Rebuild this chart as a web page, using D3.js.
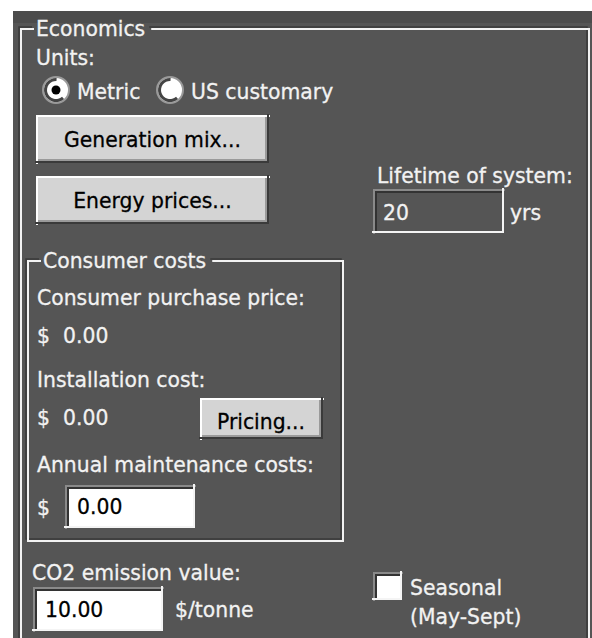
<!DOCTYPE html>
<html>
<head>
<meta charset="utf-8">
<script src="https://d3js.org/d3.v7.min.js"></script>
<style>
body { margin: 0; background: #fff; }
svg text { font-family: "DejaVu Sans", Verdana, sans-serif; font-size: 21px; stroke-width: 0.3px; }
</style>
</head>
<body>
<script>
/* form contents */
var groupTitles = ["Economics", "Consumer costs"];
var unitOptions = ["Metric", "US customary"];
var selectedUnit = "Metric";
var actionButtons = ["Generation mix...", "Energy prices..."];
var lifetimeLabel = "Lifetime of system:";
var lifetimeYears = [20];
var costLabels = ["Consumer purchase price:", "Installation cost:", "Annual maintenance costs:"];
var costValues = [0, 0, 0];
var co2Label = "CO2 emission value:";
var co2Values = [10];
var seasonalLabels = ["Seasonal", "(May-Sept)"];
var seasonalChecked = false;

var fmt = d3.format(".2f");
var W = 592, H = 638;
var BG = "#555555", FG = "#f2f2f2", FACE = "#d4d4d4";

var svg = d3.select("body").append("svg").attr("width", W).attr("height", H);

/* dialog background */
svg.append("rect").attr("x", 13).attr("y", 11).attr("width", W - 13).attr("height", H - 11).attr("fill", BG);
svg.append("rect").attr("x", 13).attr("y", 11).attr("width", W - 13).attr("height", 12).attr("fill", "#4c4c4c");

var frames = svg.append("g");

function label(g, txt, x, y, color, anchor) {
  var t = g.append("text").attr("x", x).attr("y", y)
    .attr("fill", color || FG).attr("stroke", color || FG)
    .attr("text-anchor", anchor || "start").text(txt);
  // the original face is a touch narrower than DejaVu
  var n = t.node().getComputedTextLength();
  t.attr("textLength", n * 0.97).attr("lengthAdjust", "spacingAndGlyphs");
  return t;
}

// etched frame with gap for its title
function groupBox(title, x0, y0, x1, y1) {
  var t = label(svg, title, x0 + 16, y0 + 8);
  var tw = +t.attr("textLength");
  var gapFrom = x0 + 13, gapTo = x0 + 16 + tw + 5;
  var d = "M" + gapFrom + "," + y0 + "H" + x0 + "V" + y1 + "H" + x1 + "V" + y0 + "H" + gapTo;
  frames.append("path").attr("d", d).attr("transform", "translate(-1,-1)")
    .attr("fill", "none").attr("stroke", "#3a3a3a").attr("stroke-width", 1.5);
  frames.append("path").attr("d", d).attr("transform", "translate(1,1)")
    .attr("fill", "none").attr("stroke", FG).attr("stroke-width", 2);
}

function raised(g, x, y, w, h, fill) {
  g.append("rect").attr("x", x).attr("y", y).attr("width", w).attr("height", h).attr("fill", fill);
  g.append("path").attr("d", "M" + x + "," + (y + h) + "V" + y + "H" + (x + w))
    .attr("fill", "none").attr("stroke", "#ffffff").attr("stroke-width", 2).attr("transform", "translate(1,1)");
  g.append("path").attr("d", "M" + x + "," + (y + h) + "H" + (x + w) + "V" + y)
    .attr("fill", "none").attr("stroke", "#3a3a3a").attr("stroke-width", 2).attr("transform", "translate(-1,-1)");
  g.append("path").attr("d", "M" + (x + 2) + "," + (y + h - 3) + "H" + (x + w - 3) + "V" + (y + 2))
    .attr("fill", "none").attr("stroke", "#9a9a9a").attr("stroke-width", 2);
}

function sunken(g, x, y, w, h, fill) {
  g.append("rect").attr("x", x).attr("y", y).attr("width", w).attr("height", h).attr("fill", fill);
  g.append("path").attr("d", "M" + x + "," + (y + h) + "V" + y + "H" + (x + w))
    .attr("fill", "none").attr("stroke", "#8a8a8a").attr("stroke-width", 2).attr("transform", "translate(1,1)");
  g.append("path").attr("d", "M" + (x + 2) + "," + (y + h - 2) + "V" + (y + 2) + "H" + (x + w - 2))
    .attr("fill", "none").attr("stroke", "#333").attr("stroke-width", 2).attr("transform", "translate(1,1)");
  g.append("path").attr("d", "M" + x + "," + (y + h) + "H" + (x + w) + "V" + y)
    .attr("fill", "none").attr("stroke", "#f4f4f4").attr("stroke-width", 2).attr("transform", "translate(-1,-1)");
}

/* Economics group */
groupBox(groupTitles[0], 20, 28, 588, H + 10);
label(svg, "Units:", 36, 65);

var radioX = d3.scaleOrdinal().domain(unitOptions).range([56, 170]);
var radio = svg.selectAll("g.radio").data(unitOptions).enter().append("g").attr("class", "radio")
  .attr("transform", function(d) { return "translate(" + radioX(d) + ",90)"; });
radio.append("circle").attr("r", 13).attr("fill", "#fff").attr("stroke", "#9a9a9a").attr("stroke-width", 2);
radio.append("path").attr("d", d3.arc()({innerRadius: 9, outerRadius: 12, startAngle: -Math.PI * 0.9, endAngle: Math.PI * 0.35}))
  .attr("fill", "#444").attr("transform", "rotate(-60)");
radio.filter(function(d) { return d === selectedUnit; })
  .append("circle").attr("r", 4.5).attr("fill", "#000");
radio.each(function(d) { label(d3.select(this), d, 21, 9); });

var btnY = d3.scalePoint().domain(actionButtons).range([115, 176]);
actionButtons.forEach(function(b) {
  var g = svg.append("g");
  raised(g, 36, btnY(b), 233, 48, FACE);
  label(g, b, 36 + 233 / 2, btnY(b) + 32, "#000", "middle");
});

label(svg, lifetimeLabel, 377, 183);
var life = svg.append("g");
sunken(life, 373, 189, 131, 44, BG);
label(life, lifetimeYears[0], 383, 220);
label(svg, "yrs", 510, 220);

/* Consumer costs group */
groupBox(groupTitles[1], 27, 260, 342, 540);

var costY = d3.scaleOrdinal().domain(costLabels).range([305, 387, 472]);
costLabels.forEach(function(c, i) {
  label(svg, c, 37, costY(c));
  if (i < 2) {
    label(svg, "$", 37, costY(c) + 38);
    label(svg, fmt(costValues[i]), 63, costY(c) + 38);
  } else {
    label(svg, "$", 37, costY(c) + 43);
    var g = svg.append("g");
    sunken(g, 65, 485, 130, 43, "#fff");
    label(g, fmt(costValues[i]), 77, 514, "#000");
  }
});

var pr = svg.append("g");
raised(pr, 200, 398, 123, 41, FACE);
label(pr, "Pricing...", 261, 429, "#000", "middle");

/* CO2 */
label(svg, co2Label, 32, 580);
var co2 = svg.append("g");
sunken(co2, 33, 587, 130, 44, "#fff");
label(co2, fmt(co2Values[0]), 45, 617, "#000");
label(svg, "$/tonne", 175, 617);

var cb = svg.append("g");
sunken(cb, 373, 572, 29, 28, "#fff");
if (seasonalChecked) label(cb, "\u2713", 378, 595, "#000");
seasonalLabels.forEach(function(s, i) { label(svg, s, 410, 595 + i * 29); });
</script>
</body>
</html>
